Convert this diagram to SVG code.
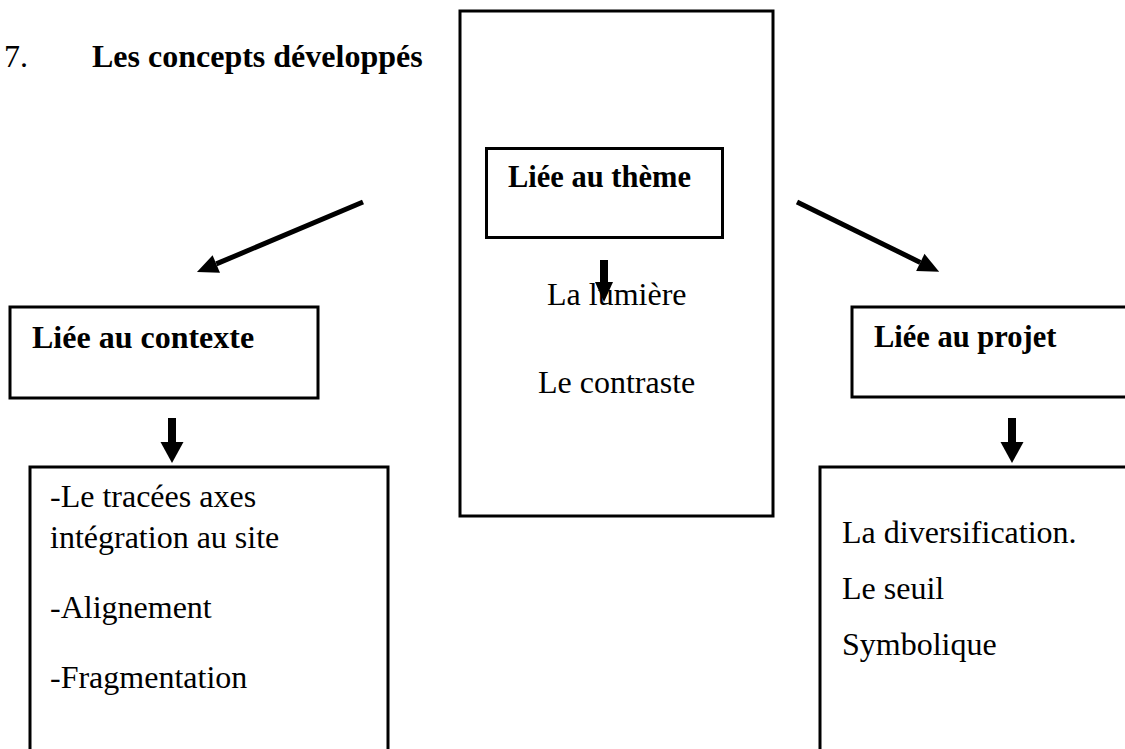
<svg xmlns="http://www.w3.org/2000/svg" width="1125" height="749" viewBox="0 0 1125 749">
<style>
.box{fill:none;stroke:#000;stroke-width:3}
.t{font-family:"Liberation Serif","Times New Roman",serif;font-size:32px;fill:#000}
.b{font-weight:bold}
.diag{stroke:#000;stroke-width:5;fill:none}
.vert{stroke:#000;stroke-width:8;fill:none}
</style>
<defs>
<marker id="dh" markerUnits="userSpaceOnUse" markerWidth="22" markerHeight="20" refX="0" refY="9.5" orient="auto" overflow="visible">
<path d="M0,0 L21,9.5 L0,19 z" fill="#000"/>
</marker>
<marker id="vh" markerUnits="userSpaceOnUse" markerWidth="22" markerHeight="24" refX="0" refY="11.5" orient="auto" overflow="visible">
<path d="M0,0 L21,11.5 L0,23 z" fill="#000"/>
</marker>
<marker id="vhs" markerUnits="userSpaceOnUse" markerWidth="22" markerHeight="20" refX="0" refY="9" orient="auto" overflow="visible">
<path d="M0,0 L20,9 L0,18 z" fill="#000"/>
</marker>
</defs>
<g id="title">
<text class="t" x="4" y="67">7.</text>
<text class="t b" x="92" y="67">Les concepts développés</text>
</g>
<g id="theme-frame">
<rect class="box" x="460" y="11" width="313" height="505"/>
</g>
<g id="theme">
<rect class="box" x="486.5" y="148.5" width="236" height="89"/>
<text class="t b" x="508" y="187" style="font-size:30.5px">Liée au thème</text>
</g>
<g id="theme-items">
<text class="t" x="547" y="305">La lumière</text>
<text class="t" x="538" y="393">Le contraste</text>
</g>
<g id="contexte">
<rect class="box" x="10" y="307" width="308" height="91"/>
<text class="t b" x="32" y="348">Liée au contexte</text>
</g>
<g id="contexte-items">
<path class="box" d="M30,749 V467 H388 V749"/>
<text class="t" x="50" y="507">-Le tracées axes</text>
<text class="t" x="50" y="548">intégration au site</text>
<text class="t" x="50" y="618">-Alignement</text>
<text class="t" x="50" y="688">-Fragmentation</text>
</g>
<g id="projet">
<path class="box" d="M1125,307 H852 V397 H1125"/>
<text class="t b" x="874" y="347" style="font-size:30.5px">Liée au projet</text>
</g>
<g id="projet-items">
<path class="box" d="M820,749 V467 H1125"/>
<text class="t" x="842" y="543">La diversification.</text>
<text class="t" x="842" y="599">Le seuil</text>
<text class="t" x="842" y="655">Symbolique</text>
</g>
<g id="connectors">
<line class="diag" x1="363" y1="202" x2="216.3" y2="263.9" marker-end="url(#dh)"/>
<line class="diag" x1="797" y1="202" x2="920.3" y2="262.4" marker-end="url(#dh)"/>
<line class="vert" x1="172" y1="418" x2="172" y2="442" marker-end="url(#vh)"/>
<line class="vert" x1="1012" y1="418" x2="1012" y2="442" marker-end="url(#vh)"/>
<line class="vert" x1="604" y1="260" x2="604" y2="282" marker-end="url(#vhs)"/>
</g>
</svg>
